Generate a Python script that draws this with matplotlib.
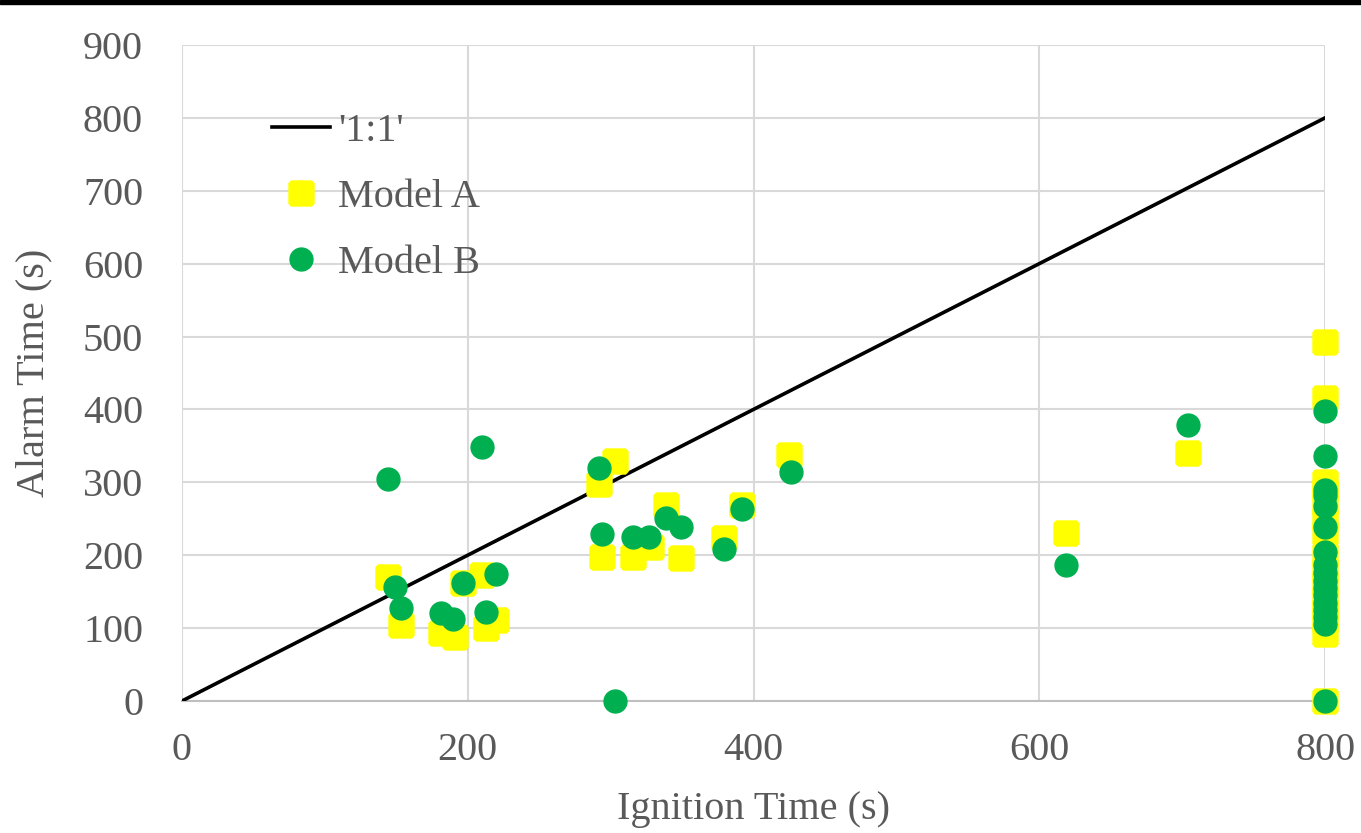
import matplotlib
matplotlib.use("Agg")
import matplotlib.pyplot as plt
from matplotlib.patches import Rectangle
from matplotlib.path import Path

# Model A (yellow squares)
a_ignition = [144, 153, 181, 191, 197, 210, 213, 220,
              292, 294, 303, 316, 328, 339, 349, 379, 392, 425,
              619, 704,
              800, 800, 800, 800, 800, 800, 800, 800, 800, 800, 800, 800, 800, 800, 800]
a_alarm = [170, 104, 93, 88, 162, 173, 100, 111,
           298, 198, 329, 198, 211, 269, 196, 224, 269, 337,
           230, 340,
           493, 415, 300, 290, 270, 250, 230, 200, 180, 160, 140, 125, 110, 92, 0]

# Model B (green circles)
b_ignition = [144, 149, 153, 181, 190, 197, 210, 213, 220,
              292, 294, 303, 316, 327, 339, 349, 379, 392, 426,
              619, 704,
              800, 800, 800, 800, 800, 800, 800, 800, 800, 800, 800, 800, 800, 800, 800, 800, 800]
b_alarm = [305, 156, 128, 121, 112, 162, 348, 122, 174,
           320, 229, 0, 225, 225, 251, 239, 209, 263, 314,
           187, 379,
           398, 336, 290, 282, 268, 238, 205, 187, 175, 165, 155, 145, 135, 125, 115, 105, 0]

ref_x = [0, 800]
ref_y = [0, 800]

plt.rcParams["font.family"] = ["Liberation Serif", "DejaVu Serif"]
text_color = "#595959"
grid_color = "#d9d9d9"

# square with slightly cut corners, like the Excel marker
c = 0.8
notched_square = Path([(-1, -c), (-c, -1), (c, -1), (1, -c), (1, c), (c, 1),
                       (-c, 1), (-1, c), (-1, -c)], closed=True)

fig = plt.figure(figsize=(13.61, 8.33), dpi=100)
ax = fig.add_axes([0.1337, 0.1585, 0.8399, 0.7875])

ax.plot(ref_x, ref_y, color="black", linewidth=2.6, label="'1:1'", zorder=3)
ax.plot(a_ignition, a_alarm, linestyle="none", marker=notched_square, markersize=18,
        color="#ffff00", markeredgecolor="#ffff00", label="Model A", zorder=4,
        clip_on=False)
ax.plot(b_ignition, b_alarm, linestyle="none", marker="o", markersize=16.5,
        color="#00b050", markeredgecolor="#00b050", label="Model B", zorder=5,
        clip_on=False)

ax.set_xlim(0, 800)
ax.set_ylim(0, 900)
ax.set_xticks(range(0, 801, 200))
ax.set_yticks(range(0, 901, 100))
ax.grid(True, color=grid_color, linewidth=1.5, zorder=0)
ax.set_axisbelow(True)
for side in ["top", "right", "left"]:
    ax.spines[side].set_visible(False)
ax.spines["bottom"].set_color("#bfbfbf")
ax.spines["bottom"].set_linewidth(1.5)
ax.tick_params(axis="y", length=0, labelsize=29, colors=text_color, pad=28)
ax.tick_params(axis="x", length=0, labelsize=29, colors=text_color, pad=22)

ax.set_xlabel("Ignition Time (s)", fontsize=29, color=text_color, labelpad=16)
ax.set_ylabel("Alarm Time (s)", fontsize=29, color=text_color, labelpad=22)

ax.legend(loc="upper left", bbox_to_anchor=(272 / 1361, 720 / 833),
          bbox_transform=fig.transFigure, frameon=False, borderpad=0,
          borderaxespad=0, fontsize=29, labelcolor=text_color,
          handlelength=1.45, handletextpad=0.2, labelspacing=0.71)

fig.add_artist(Rectangle((0, 1 - 4 / 833), 1, 4 / 833, transform=fig.transFigure,
                         color="black", zorder=10))

fig.savefig("out.png", dpi=100)
